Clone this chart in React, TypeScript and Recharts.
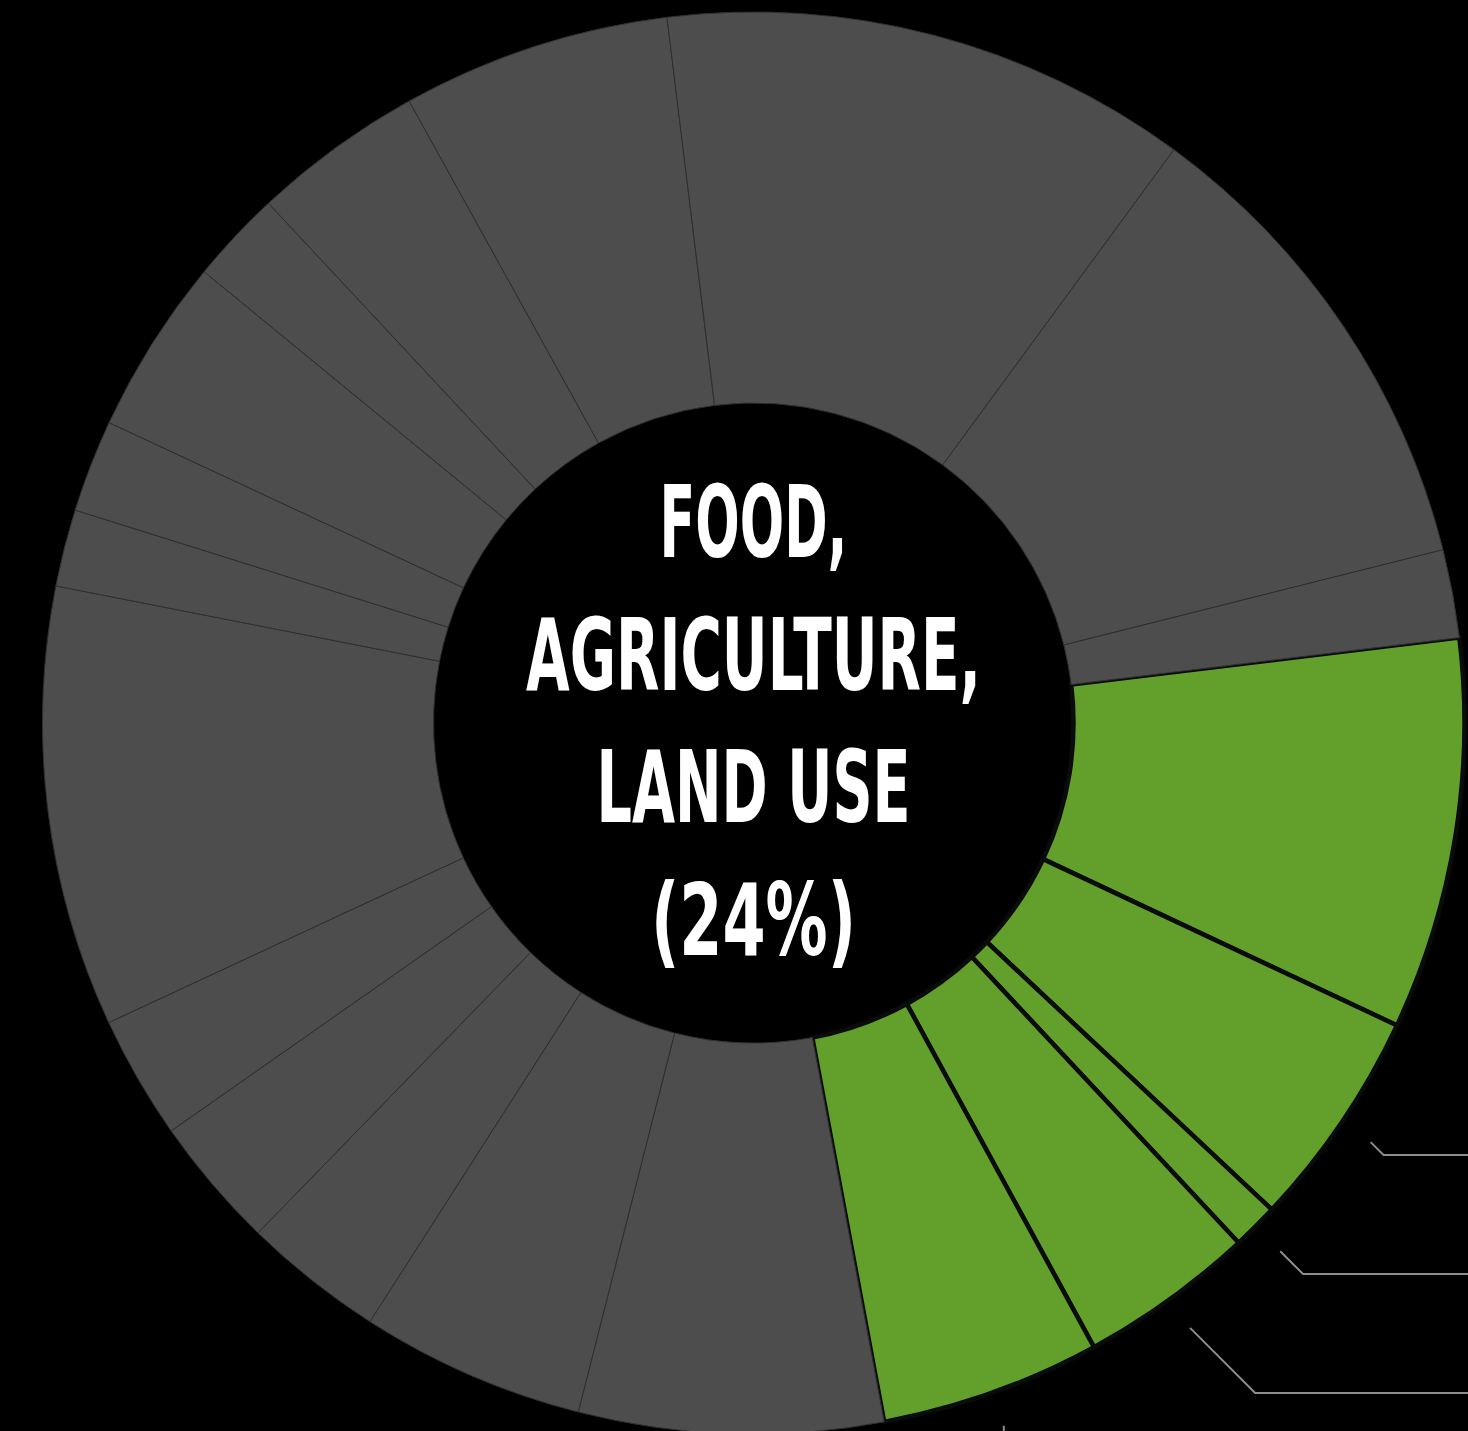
import React from 'react';
import { PieChart, Pie, Cell } from 'recharts';

// food / agriculture / land use slices (share of total, %)
const GREEN_NAMES = ['Land 1', 'Land 2', 'Land 3', 'Land 4', 'Land 5'];
const GREEN_VALUES = [8.9, 5.0, 1.05, 4.0, 5.0];

// every other sector, clockwise from the bottom
const GRAY_NAMES = [
  'Other 1', 'Other 2', 'Other 3', 'Other 4', 'Other 5',
  'Other 6', 'Other 7', 'Other 8', 'Other 9', 'Other 10',
  'Other 11', 'Other 12', 'Other 13', 'Other 14', 'Other 15'
];
const GRAY_VALUES = [6.9, 5.1, 3.2, 3.0, 2.8, 10.0, 1.75, 2.1, 4.0, 2.1, 3.9, 6.1, 12.0, 11.0, 2.0];

const CENTER_LINES = ['FOOD,', 'AGRICULTURE,', 'LAND USE', '(24%)'];

const GREEN = '#63a02b';
const GRAY = '#4d4d4d';

const W = 1468;
const H = 1431;
const CX = 753.5;
const CY = 723;

const data = [
  ...GREEN_VALUES.map((value, i) => ({ name: GREEN_NAMES[i], value, group: 'green' })),
  ...GRAY_VALUES.map((value, i) => ({ name: GRAY_NAMES[i], value, group: 'gray' }))
];

const RAD = Math.PI / 180;

// elbow leader lines for the green slices, labels sit off the picture to the right
const renderLeader = (props: any) => {
  const { cx, cy, outerRadius, midAngle, index } = props;
  if (index >= GREEN_VALUES.length) return <g />;
  const r = outerRadius + 35;
  const sx = cx + r * Math.cos(-midAngle * RAD);
  const sy = cy + r * Math.sin(-midAngle * RAD);
  let d: string;
  if (index === GREEN_VALUES.length - 1) {
    d = `M${sx},${sy}L${sx},${sy + 200}`;
  } else {
    const ty = 1155 + (index - 1) * 119;
    const ex = sx + (ty - sy);
    d = `M${sx},${sy}L${ex},${ty}L${W + 50},${ty}`;
  }
  return <path d={d} fill="none" stroke="#8c8c8c" strokeWidth={2} />;
};

export default function App() {
  return (
    <div style={{ position: 'absolute', left: 0, top: 0, width: W, height: H, background: '#000', overflow: 'hidden' }}>
      <PieChart width={W} height={H} margin={{ top: 0, right: 0, bottom: 0, left: 0 }}>
        <Pie
          data={data}
          dataKey="value"
          nameKey="name"
          cx={CX}
          cy={CY}
          innerRadius={320}
          outerRadius={711}
          startAngle={6.9}
          endAngle={6.9 - 360}
          isAnimationActive={false}
          label={() => <g />}
          labelLine={renderLeader}
        >
          {data.map((entry, index) => (
            <Cell
              key={`cell-${index}`}
              fill={entry.group === 'green' ? GREEN : GRAY}
              stroke={entry.group === 'green' ? '#0b0b0b' : '#303030'}
              strokeWidth={entry.group === 'green' ? 4.5 : 1}
            />
          ))}
        </Pie>
      </PieChart>

      {/* centre title */}
      <svg width={W} height={H} style={{ position: 'absolute', left: 0, top: 0, pointerEvents: 'none' }}>
        {CENTER_LINES.map((line, i) => (
          <text
            key={line}
            x={CX}
            y={557 + i * 132.5}
            textAnchor="middle"
            fill="#ffffff"
            fontFamily="'Liberation Sans Narrow', 'DejaVu Sans Condensed', 'Roboto', sans-serif"
            fontWeight="bold"
            fontSize={100}
            textLength={[188, 455, 314, 205][i]}
            lengthAdjust="spacingAndGlyphs"
          >
            {line}
          </text>
        ))}
      </svg>
    </div>
  );
}
